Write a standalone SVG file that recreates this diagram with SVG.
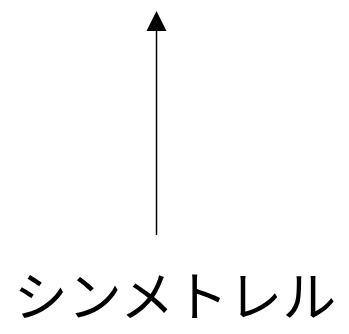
<svg xmlns="http://www.w3.org/2000/svg" width="349" height="334" viewBox="0 0 349 334">
<style>
.lbl{font-family:"Noto Sans CJK JP","Noto Sans CJK SC",sans-serif;font-size:54px;fill:#000}
.edge{stroke:#000;stroke-width:1.5;fill:none}
</style>
<rect width="349" height="334" fill="#fff"/>
<g id="connectors">
<line class="edge" x1="156.5" y1="235" x2="156.5" y2="30"/>
<polygon points="156.5,11 146.5,31 166.5,31" fill="#000"/>
</g>
<g id="node-label">
<text class="lbl" x="175" y="317" text-anchor="middle">シンメトレル</text>
</g>
</svg>
